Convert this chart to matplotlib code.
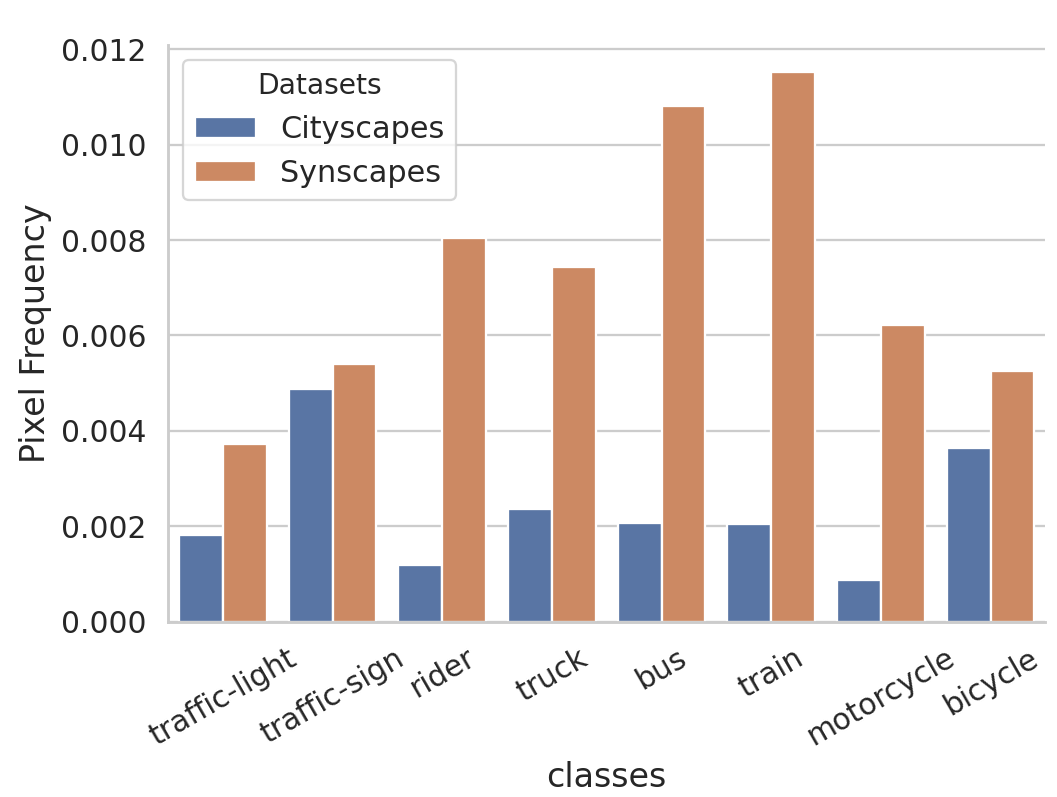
import matplotlib
matplotlib.use("Agg")
import matplotlib.pyplot as plt
import seaborn as sns
import pandas as pd

classes = ["traffic-light", "traffic-sign", "rider", "truck", "bus", "train", "motorcycle", "bicycle"]
cityscapes = [0.00182, 0.00488, 0.00118, 0.00236, 0.00206, 0.00205, 0.00087, 0.00364]
synscapes = [0.00372, 0.00540, 0.00805, 0.00744, 0.01082, 0.01152, 0.00622, 0.00525]

df = pd.DataFrame({
    "classes": classes * 2,
    "Pixel Frequency": cityscapes + synscapes,
    "Datasets": ["Cityscapes"] * len(classes) + ["Synscapes"] * len(classes),
})

sns.set_theme(style="whitegrid", context="notebook", font_scale=1.2)
fig, ax = plt.subplots(figsize=(1057 / 165, 797 / 165), dpi=165)
sns.barplot(data=df, x="classes", y="Pixel Frequency", hue="Datasets", ax=ax)
sns.despine(ax=ax)
ax.grid(axis="x", visible=False)
for lab in ax.get_xticklabels():
    lab.set_rotation(30)
ax.tick_params(labelsize=13)
ax.xaxis.label.set_fontsize(14.5)
ax.yaxis.label.set_fontsize(14.5)
leg = ax.get_legend()
leg.get_title().set_fontsize(12.3)
for t in leg.get_texts():
    t.set_fontsize(13.2)
fig.subplots_adjust(left=0.159, right=0.989, top=0.944, bottom=0.22)
fig.savefig("out.png", dpi=165)
